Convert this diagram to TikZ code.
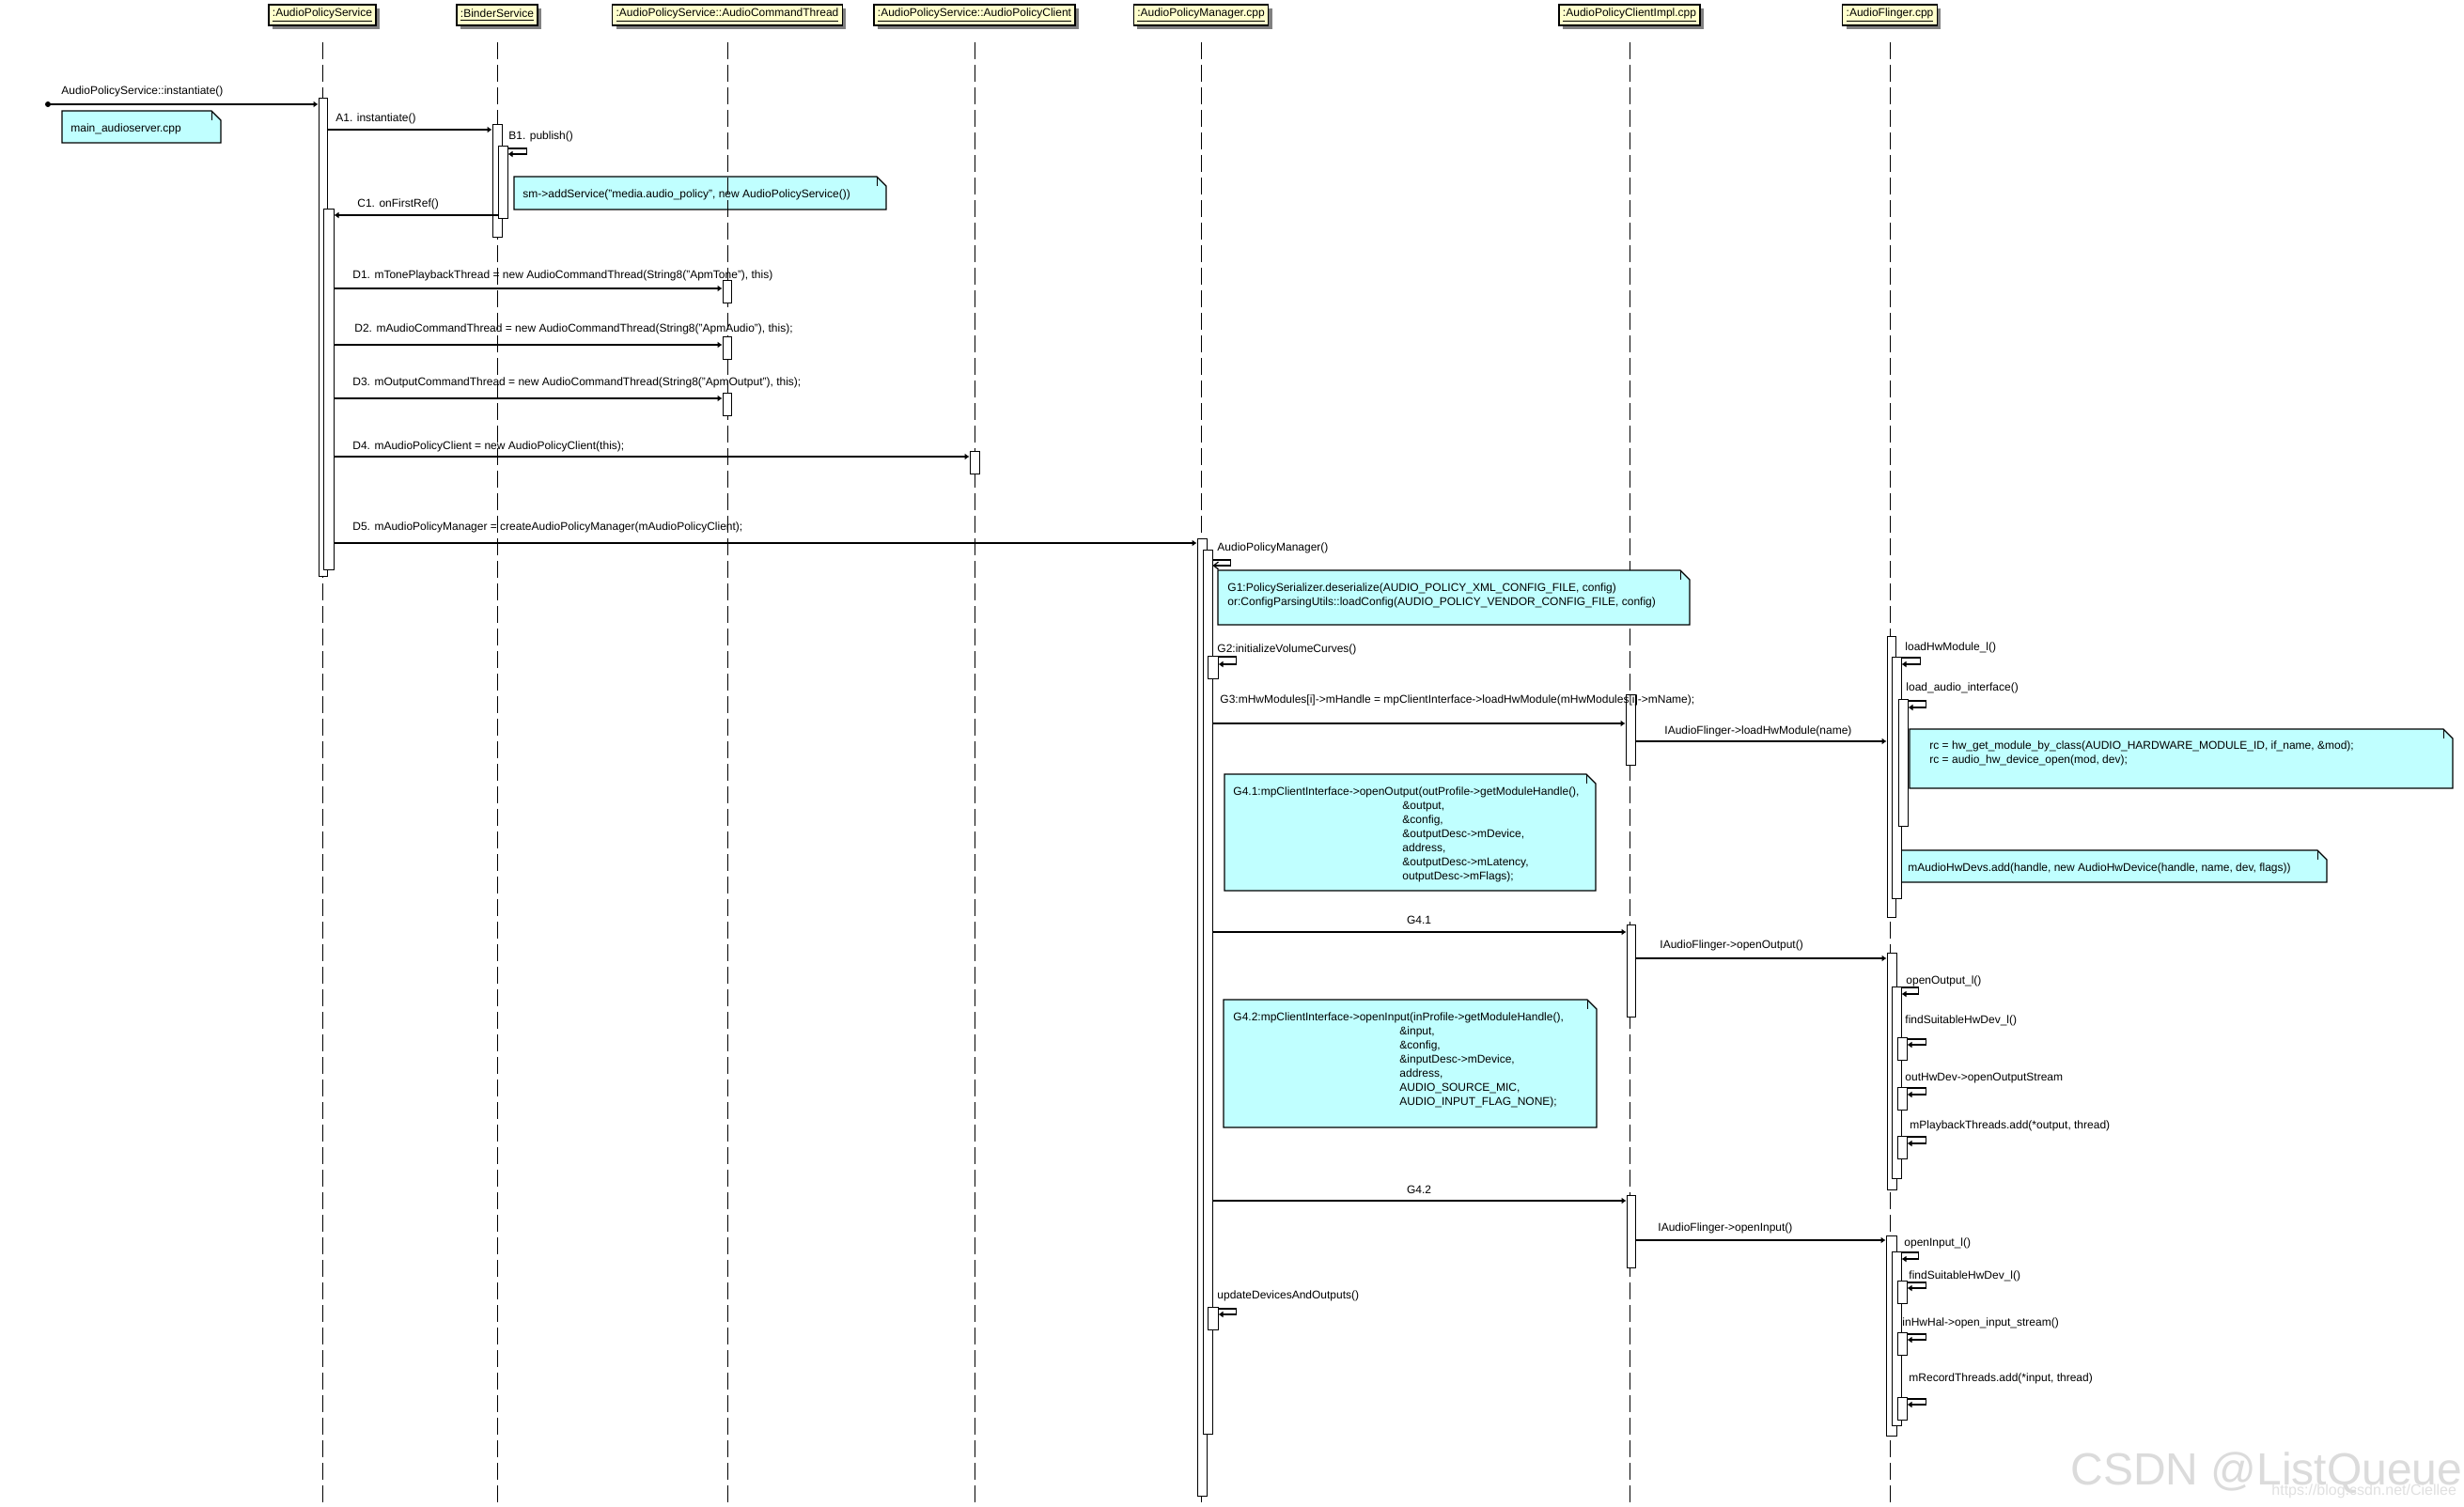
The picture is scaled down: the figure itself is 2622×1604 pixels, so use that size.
\documentclass[tikz,border=0pt]{standalone}
\usepackage{fontspec}
\setmainfont{Liberation Sans}
\usetikzlibrary{arrows.meta,shadows,fit,calc}
\definecolor{hdryellow}{RGB}{255,255,204}
\definecolor{notecyan}{RGB}{192,255,255}
\newcommand\lfont{\fontsize{6pt}{7.5pt}\selectfont}
\newcommand\myact[5]{\node[actstyle, fit={(#2,#3) (#4,#5)}] (#1) {};}
\newcommand\mylbl[4]{\node[lblstyle] (#1) at (#2,#3) {#4};}
\newcommand\mynote[5]{%
  \draw[notestyle] (#2,#3) -- (#4-10,#3) -- (#4,#3+10) -- (#4,#5) -- (#2,#5) -- cycle;
  \draw[line width=0.5pt] (#4-10,#3) -- (#4-10,#3+10);
  \coordinate (#1) at (#2,#3);}
\begin{document}
\begin{tikzpicture}[x=0.5pt,y=-0.5pt,
  hdr/.style={draw, line width=0.6pt, fill=hdryellow, inner xsep=2pt, inner ysep=0pt,
    minimum height=11pt, font=\lfont,
    drop shadow={shadow xshift=2pt, shadow yshift=-2pt, fill=black!50, opacity=1}},
  life/.style={line width=0.5pt, dash pattern=on 8.8pt off 3.2pt},
  actstyle/.style={draw, fill=white, line width=0.5pt, inner sep=0pt},
  msg/.style={line width=0.6pt, -{Latex[length=2.5pt,width=3.5pt]}},
  omsg/.style={line width=0.6pt, -{Straight Barb[length=2.5pt,width=4pt]}},
  lblstyle/.style={anchor=base west, inner sep=0pt, font=\lfont},
  notestyle/.style={draw, line width=0.6pt, fill=notecyan}]
\useasboundingbox (0,0) rectangle (2622,1604);
\fill[white] (0,0) rectangle (2622,1604);

% watermark
\node[anchor=base west, inner sep=0pt, font=\fontsize{24pt}{24pt}\selectfont, text=black!14] (wm) at (2203,1580) {CSDN @ListQueue};
\node[anchor=base west, inner sep=0pt, font=\fontsize{8pt}{8pt}\selectfont, text=black!12] (wmurl) at (2417,1591) {https://blog.csdn.net/Ciellee};

% headers
\node[hdr] (h1) at (343,16) {\underline{:AudioPolicyService}};
\node[hdr] (h2) at (529,16) {\underline{:BinderService}};
\node[hdr] (h3) at (774,16) {\underline{:AudioPolicyService::AudioCommandThread}};
\node[hdr] (h4) at (1037,16) {\underline{:AudioPolicyService::AudioPolicyClient}};
\node[hdr] (h5) at (1278,16) {\underline{:AudioPolicyManager.cpp}};
\node[hdr] (h6) at (1734,16) {\underline{:AudioPolicyClientImpl.cpp}};
\node[hdr] (h7) at (2011,16) {\underline{:AudioFlinger.cpp}};

% note drawn below lifelines
\mynote{nsm}{547}{188}{943}{223}
\mylbl{tsm}{556}{211}{sm->addService("media.audio\_policy", new AudioPolicyService())}

% lifelines
\foreach \h in {h1,h2,h3,h4,h5,h6,h7}
  \draw[life] (\h |- 0,45) -- (\h |- 0,1604);

% notes above lifelines
\mynote{nmain}{66}{118}{235}{152}
\mylbl{tmain}{75}{141}{main\_audioserver.cpp}
\mynote{ng1}{1296}{607}{1798}{665}
\mylbl{tg1a}{1306}{629}{G1:PolicySerializer.deserialize(AUDIO\_POLICY\_XML\_CONFIG\_FILE, config)}
\mylbl{tg1b}{1306}{644}{or:ConfigParsingUtils::loadConfig(AUDIO\_POLICY\_VENDOR\_CONFIG\_FILE, config)}
\mynote{nrc}{2032}{776}{2610}{839}
\mylbl{trca}{2053}{797}{rc = hw\_get\_module\_by\_class(AUDIO\_HARDWARE\_MODULE\_ID, if\_name, \&mod);}
\mylbl{trcb}{2053}{812}{rc = audio\_hw\_device\_open(mod, dev);}
\mynote{nhw}{2020}{905}{2476}{939}
\mylbl{thw}{2030}{927}{mAudioHwDevs.add(handle, new AudioHwDevice(handle, name, dev, flags))}
\mynote{ng41}{1303}{824}{1698}{948}
\mylbl{tg41a}{1312}{846}{G4.1:mpClientInterface->openOutput(outProfile->getModuleHandle(),}
\mylbl{tg41b}{1492}{861}{\&output,}
\mylbl{tg41c}{1492}{876}{\&config,}
\mylbl{tg41d}{1492}{891}{\&outputDesc->mDevice,}
\mylbl{tg41e}{1492}{906}{address,}
\mylbl{tg41f}{1492}{921}{\&outputDesc->mLatency,}
\mylbl{tg41g}{1492}{936}{outputDesc->mFlags);}
\mynote{ng42}{1302}{1064}{1699}{1200}
\mylbl{tg42a}{1312}{1086}{G4.2:mpClientInterface->openInput(inProfile->getModuleHandle(),}
\mylbl{tg42b}{1489}{1101}{\&input,}
\mylbl{tg42c}{1489}{1116}{\&config,}
\mylbl{tg42d}{1489}{1131}{\&inputDesc->mDevice,}
\mylbl{tg42e}{1489}{1146}{address,}
\mylbl{tg42f}{1489}{1161}{AUDIO\_SOURCE\_MIC,}
\mylbl{tg42g}{1489}{1176}{AUDIO\_INPUT\_FLAG\_NONE);}

% activations
\myact{aps1}{339}{105}{348}{613}
\myact{aps2}{344}{223}{355}{606}
\myact{bs1}{524}{133}{534}{253}
\myact{bs2}{530}{156}{540}{233}
\myact{act1}{769}{299}{778}{323}
\myact{act2}{769}{359}{778}{383}
\myact{act3}{769}{419}{778}{443}
\myact{apc1}{1032}{481}{1042}{505}
\myact{apm1}{1274}{573}{1284}{1592}
\myact{apm2}{1280}{585}{1290}{1526}
\myact{apm3}{1285}{698}{1296}{722}
\myact{apm4}{1285}{1391}{1296}{1415}
\myact{ci1}{1730}{739}{1740}{814}
\myact{ci2}{1731}{984}{1740}{1082}
\myact{ci3}{1731}{1272}{1740}{1349}
\myact{af1}{2008}{677}{2017}{976}
\myact{af2}{2013}{699}{2023}{956}
\myact{af3}{2020}{744}{2030}{879}
\myact{af4}{2008}{1014}{2018}{1266}
\myact{af5}{2013}{1050}{2023}{1254}
\myact{af6}{2019}{1104}{2029}{1128}
\myact{af7}{2019}{1157}{2029}{1181}
\myact{af8}{2019}{1209}{2029}{1233}
\myact{af9}{2007}{1315}{2018}{1528}
\myact{af10}{2013}{1332}{2023}{1517}
\myact{af11}{2019}{1363}{2029}{1387}
\myact{af12}{2019}{1418}{2029}{1442}
\myact{af13}{2019}{1487}{2029}{1511}

% messages
\coordinate (start) at (51,111);
\fill (start) circle[radius=3];
\draw[msg] (start) -- (aps1.west |- start);
\mylbl{m0}{65}{101}{AudioPolicyService::instantiate()}
\draw[msg] (aps1.east |- 0,138) -- (bs1.west |- 0,138);
\mylbl{ma1}{357}{130}{A1. instantiate()}
\draw[msg] (bs2.east |- 0,158) -- ++(20,0) -- ++(0,6) -- ++(-20,0);
\mylbl{mb1}{541}{149}{B1. publish()}
\draw[msg] (bs2.west |- 0,229) -- (aps2.east |- 0,229);
\mylbl{mc1}{380}{221}{C1. onFirstRef()}
\draw[msg] (aps2.east |- 0,307) -- (act1.west |- 0,307);
\mylbl{md1}{375}{297}{D1. mTonePlaybackThread = new AudioCommandThread(String8("ApmTone"), this)}
\draw[msg] (aps2.east |- 0,367) -- (act2.west |- 0,367);
\mylbl{md2}{377}{354}{D2. mAudioCommandThread = new AudioCommandThread(String8("ApmAudio"), this);}
\draw[msg] (aps2.east |- 0,424) -- (act3.west |- 0,424);
\mylbl{md3}{375}{411}{D3. mOutputCommandThread = new AudioCommandThread(String8("ApmOutput"), this);}
\draw[msg] (aps2.east |- 0,486) -- (apc1.west |- 0,486);
\mylbl{md4}{375}{479}{D4. mAudioPolicyClient = new AudioPolicyClient(this);}
\draw[msg] (aps2.east |- 0,578) -- (apm1.west |- 0,578);
\mylbl{md5}{375}{565}{D5. mAudioPolicyManager = createAudioPolicyManager(mAudioPolicyClient);}

\draw[omsg] (apm2.east |- 0,596) -- ++(19,0) -- ++(0,6) -- ++(-19,0);
\mylbl{mapm}{1295}{586}{AudioPolicyManager()}
\draw[msg] (apm3.east |- 0,699) -- ++(19,0) -- ++(0,8) -- ++(-19,0);
\mylbl{mg2}{1295}{694}{G2:initializeVolumeCurves()}
\draw[msg] (apm2.east |- 0,770) -- (ci1.west |- 0,770);
\mylbl{mg3}{1298}{748}{G3:mHwModules[i]->mHandle = mpClientInterface->loadHwModule(mHwModules[i]->mName);}
\draw[msg] (ci1.east |- 0,789) -- (af1.west |- 0,789);
\mylbl{mlhm}{1771}{781}{IAudioFlinger->loadHwModule(name)}
\draw[msg] (af2.east |- 0,700) -- ++(20,0) -- ++(0,7) -- ++(-20,0);
\mylbl{mlhml}{2027}{692}{loadHwModule\_l()}
\draw[msg] (af3.east |- 0,746) -- ++(19,0) -- ++(0,7) -- ++(-19,0);
\mylbl{mlai}{2028}{735}{load\_audio\_interface()}

\draw[msg] (apm2.east |- 0,992) -- (ci2.west |- 0,992);
\node[lblstyle, anchor=base] (mg41) at (1510,983) {G4.1};
\draw[msg] (ci2.east |- 0,1020) -- (af4.west |- 0,1020);
\mylbl{moo}{1766}{1009}{IAudioFlinger->openOutput()}
\draw[msg] (af5.east |- 0,1051) -- ++(18,0) -- ++(0,7) -- ++(-18,0);
\mylbl{mool}{2028}{1047}{openOutput\_l()}
\draw[msg] (af6.east |- 0,1106) -- ++(20,0) -- ++(0,6) -- ++(-20,0);
\mylbl{mfs1}{2027}{1089}{findSuitableHwDev\_l()}
\draw[msg] (af7.east |- 0,1158) -- ++(20,0) -- ++(0,7) -- ++(-20,0);
\mylbl{mohs}{2027}{1150}{outHwDev->openOutputStream}
\draw[msg] (af8.east |- 0,1210) -- ++(20,0) -- ++(0,7) -- ++(-20,0);
\mylbl{mpt}{2032}{1201}{mPlaybackThreads.add(*output, thread)}

\draw[msg] (apm2.east |- 0,1278) -- (ci3.west |- 0,1278);
\node[lblstyle, anchor=base] (mg42) at (1510,1270) {G4.2};
\draw[msg] (ci3.east |- 0,1320) -- (af9.west |- 0,1320);
\mylbl{moi}{1764}{1310}{IAudioFlinger->openInput()}
\draw[msg] (af10.east |- 0,1333) -- ++(18,0) -- ++(0,7) -- ++(-18,0);
\mylbl{moil}{2026}{1326}{openInput\_l()}
\draw[msg] (af11.east |- 0,1365) -- ++(20,0) -- ++(0,6) -- ++(-20,0);
\mylbl{mfs2}{2031}{1361}{findSuitableHwDev\_l()}
\draw[msg] (af12.east |- 0,1420) -- ++(20,0) -- ++(0,6) -- ++(-20,0);
\mylbl{mihs}{2024}{1411}{inHwHal->open\_input\_stream()}
\draw[msg] (af13.east |- 0,1489) -- ++(20,0) -- ++(0,6) -- ++(-20,0);
\mylbl{mrt}{2031}{1470}{mRecordThreads.add(*input, thread)}

\draw[msg] (apm4.east |- 0,1393) -- ++(19,0) -- ++(0,6) -- ++(-19,0);
\mylbl{mudo}{1295}{1382}{updateDevicesAndOutputs()}
\end{tikzpicture}
\end{document}
